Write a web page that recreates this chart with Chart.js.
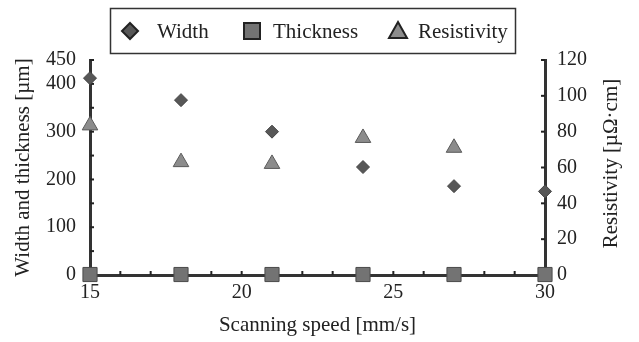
<!DOCTYPE html>
<html>
<head>
<meta charset="utf-8">
<script src="https://cdn.jsdelivr.net/npm/chart.js@4"></script>
<style>
  html, body { margin: 0; padding: 0; background: #fff; }
  #wrap { width: 639px; height: 342px; }
</style>
</head>
<body>
<div id="wrap"><canvas id="myChart" width="639" height="342"></canvas></div>
<script>
// scanning speed [mm/s]
const speeds = [15, 18, 21, 24, 27, 30]
// series values
const widthValues = [412, 366, 300, 226, 186, 175]
const thicknessValues = [1, 1, 1, 1, 1, 1]
const resistivityValues = [83.5, 63, 62, 76.5, 71, null]
// tick labels shown on the left axis
const leftTickLabels = [0, 100, 200, 300, 400, 450]
const seriesNames = ['Width', 'Thickness', 'Resistivity']

const FONT = '"Liberation Serif", "Times New Roman", serif'
const INK = '#222'

function toPoints(values) {
    let pts = []
    for (let i = 0; i < speeds.length; i++) {
        if (values[i] !== null) pts.push({ x: speeds[i], y: values[i] })
    }
    return pts
}

// inside tick marks, the right axis title (reads bottom to top) and the framed legend
const framePlugin = {
    id: 'frame',
    beforeDatasetsDraw(chart) {
        const ctx = chart.ctx
        const area = chart.chartArea
        ctx.save()
        ctx.strokeStyle = INK
        ctx.lineWidth = 2
        chart.scales.x.ticks.forEach(t => {
            const px = chart.scales.x.getPixelForValue(t.value)
            ctx.beginPath(); ctx.moveTo(px, area.bottom); ctx.lineTo(px, area.bottom - 4); ctx.stroke()
        })
        chart.scales.y.ticks.forEach(t => {
            const py = chart.scales.y.getPixelForValue(t.value)
            ctx.beginPath(); ctx.moveTo(area.left, py); ctx.lineTo(area.left + 4, py); ctx.stroke()
        })
        chart.scales.y2.ticks.forEach(t => {
            const py = chart.scales.y2.getPixelForValue(t.value)
            ctx.beginPath(); ctx.moveTo(area.right, py); ctx.lineTo(area.right - 4, py); ctx.stroke()
        })
        ctx.restore()
    },
    afterDraw(chart) {
        const ctx = chart.ctx
        const area = chart.chartArea
        ctx.save()
        // right axis title
        ctx.fillStyle = INK
        ctx.font = '21px ' + FONT
        ctx.textAlign = 'center'
        ctx.textBaseline = 'middle'
        ctx.translate(611, (area.top + area.bottom) / 2 - 4)
        ctx.rotate(-Math.PI / 2)
        ctx.fillText('Resistivity [µΩ·cm]', 0, 0)
        ctx.restore()

        // legend frame
        ctx.save()
        ctx.strokeStyle = '#333'
        ctx.lineWidth = 1.5
        ctx.strokeRect(110.5, 8.5, 405, 45)
        const ds = chart.data.datasets
        const markX = [130, 252, 398]
        const textX = [157, 273, 418]
        const cy = 31
        ctx.lineWidth = 2
        ctx.strokeStyle = '#222'
        for (let i = 0; i < ds.length; i++) {
            ctx.fillStyle = ds[i].backgroundColor
            ctx.beginPath()
            if (ds[i].pointStyle === 'rectRot') {
                ctx.moveTo(markX[i], cy - 8); ctx.lineTo(markX[i] + 8, cy)
                ctx.lineTo(markX[i], cy + 8); ctx.lineTo(markX[i] - 8, cy); ctx.closePath()
            } else if (ds[i].pointStyle === 'rect') {
                ctx.rect(markX[i] - 8, cy - 8, 16, 16)
            } else {
                ctx.moveTo(markX[i], cy - 9); ctx.lineTo(markX[i] + 9, cy + 7)
                ctx.lineTo(markX[i] - 9, cy + 7); ctx.closePath()
            }
            ctx.fill(); ctx.stroke()
            ctx.fillStyle = INK
            ctx.font = '21px ' + FONT
            ctx.textAlign = 'left'
            ctx.textBaseline = 'middle'
            ctx.fillText(seriesNames[i], textX[i], cy + 1)
        }
        ctx.restore()
    }
}

const ctx = document.getElementById('myChart')
const myChart = new Chart(ctx, {
    type: 'scatter',
    data: {
        datasets: [{
            label: seriesNames[0],
            data: toPoints(widthValues),
            yAxisID: 'y',
            pointStyle: 'rectRot',
            pointRadius: 6.5,
            backgroundColor: '#575757',
            borderColor: '#444',
            borderWidth: 1,
            clip: false
        }, {
            label: seriesNames[1],
            data: toPoints(thicknessValues),
            yAxisID: 'y',
            pointStyle: 'rect',
            pointRadius: 10,
            backgroundColor: '#737373',
            borderColor: '#4a4a4a',
            borderWidth: 1,
            clip: false
        }, {
            label: seriesNames[2],
            data: toPoints(resistivityValues),
            yAxisID: 'y2',
            pointStyle: 'triangle',
            pointRadius: 9,
            backgroundColor: '#8c8c8c',
            borderColor: '#5a5a5a',
            borderWidth: 1,
            clip: false
        }]
    },
    options: {
        responsive: false,
        animation: false,
        layout: { padding: { top: 60, left: 0, right: 0, bottom: 0 } },
        plugins: {
            tooltip: { enabled: false },
            legend: { display: false }
        },
        scales: {
            x: {
                type: 'linear',
                min: 15,
                max: 30,
                grid: { display: false, drawTicks: false },
                border: { display: true, color: '#333', width: 3 },
                afterFit: s => { s.height = 67 },
                ticks: {
                    stepSize: 1,
                    autoSkip: false,
                    maxRotation: 0,
                    padding: 6,
                    color: INK,
                    font: { family: FONT, size: 20 },
                    callback: v => (v % 5 === 0 ? v : '')
                },
                title: { display: true, text: 'Scanning speed [mm/s]', color: INK, font: { family: FONT, size: 21 }, padding: { top: 0, bottom: 4 } }
            },
            y: {
                position: 'left',
                min: 0,
                max: 450,
                grid: { display: false, drawTicks: false },
                border: { display: true, color: '#333', width: 3 },
                afterFit: s => { s.width = 90 },
                ticks: {
                    stepSize: 50,
                    autoSkip: false,
                    padding: 14,
                    color: INK,
                    font: { family: FONT, size: 20 },
                    callback: v => (leftTickLabels.includes(v) ? v : '')
                },
                title: { display: true, text: 'Width and thickness [µm]', color: INK, font: { family: FONT, size: 21 }, padding: { top: 11, bottom: 0 } }
            },
            y2: {
                position: 'right',
                min: 0,
                max: 120,
                grid: { display: false, drawTicks: false },
                border: { display: true, color: '#333', width: 3 },
                afterFit: s => { s.width = 94 },
                ticks: {
                    stepSize: 20,
                    padding: 12,
                    color: INK,
                    font: { family: FONT, size: 20 }
                }
            }
        }
    },
    plugins: [framePlugin]
})
</script>
</body>
</html>
